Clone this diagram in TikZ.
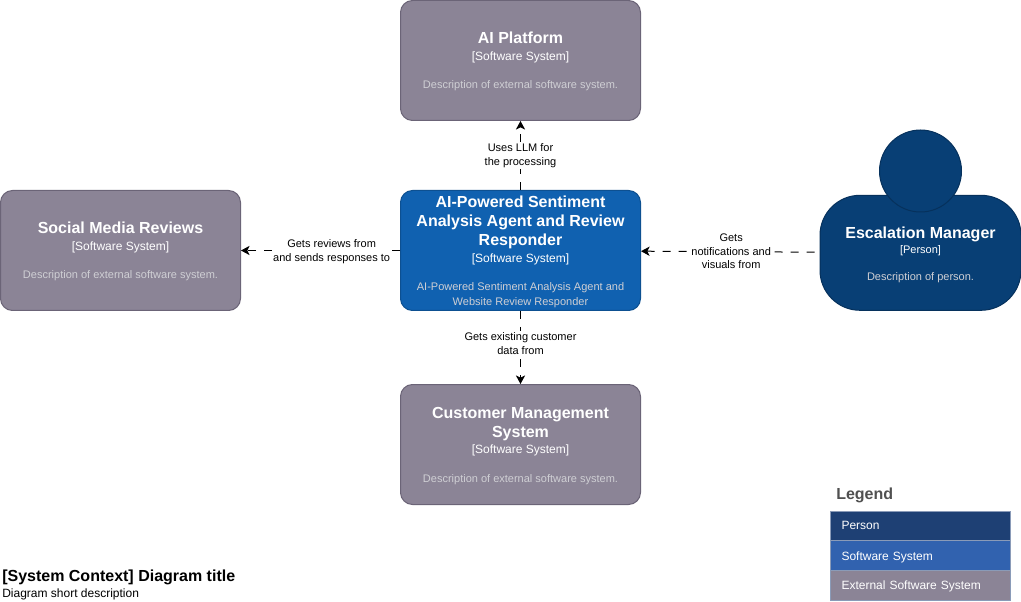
\documentclass[tikz,border=0pt]{standalone}
\usepackage{fontspec}
\setmainfont{Liberation Sans}
\usetikzlibrary{arrows.meta}
\definecolor{extfill}{HTML}{8B8496}
\definecolor{extline}{HTML}{6B6477}
\definecolor{sysfill}{HTML}{1061B0}
\definecolor{sysline}{HTML}{0D5091}
\definecolor{perfill}{HTML}{083F75}
\definecolor{perline}{HTML}{06315C}
\definecolor{legper}{HTML}{1E4074}
\definecolor{legsys}{HTML}{3162AF}
\definecolor{legline}{HTML}{8A9BB8}
\definecolor{legtitle}{HTML}{505050}
\definecolor{desc}{HTML}{CFCFD4}
\newcommand{\tf}{\fontsize{12}{14.25}\selectfont\bfseries}
\newcommand{\tfl}{\tf\rule{0pt}{10.2pt}}
\newcommand{\yf}{\fontsize{9}{14.25}\selectfont\mdseries}
\newcommand{\df}{\fontsize{8.25}{14.25}\selectfont\mdseries\color{desc}}
\newcommand{\lf}{\fontsize{8.25}{10.5}\selectfont}
\tikzset{
  x=0.75pt,y=-0.75pt,
  boxnode/.style={draw,rounded corners=9pt,minimum width=180pt,minimum height=90pt,inner sep=0pt,align=center,text=white,line width=0.75pt,font=\fontsize{9}{14.25}\selectfont},
  extbox/.style={boxnode,fill=extfill,draw=extline},
  sysbox/.style={boxnode,fill=sysfill,draw=sysline},
  perbody/.style={boxnode,fill=perfill,draw=perline,minimum width=150.75pt,minimum height=86.25pt,rounded corners=30pt},
  perhead/.style={circle,fill=perfill,draw=perline,minimum size=61.5pt,inner sep=0pt,line width=0.75pt},
  rel/.style={dash pattern=on 6pt off 6pt,line width=0.75pt,-{Stealth[length=6.5pt,width=7pt,inset=1.8pt]}},
  rellabel/.style={fill=white,inner sep=1pt,align=center,font=\lf},
  legrow/.style={draw=legline,minimum width=135pt,minimum height=22.3pt,inner sep=0pt,line width=0.75pt,text=white,align=left,anchor=north west,font=\fontsize{9}{11}\selectfont,text width=126pt},
}
\begin{document}
\begin{tikzpicture}
\useasboundingbox (0,0) rectangle (1021,602);
\node[extbox] (ai) at (520.5,60.5) {\tfl AI Platform\\[-1.5pt] \yf [Software System]\\[6.75pt] \df Description of external software system.};
\node[extbox] (social) at (120.5,250.5) {\tfl Social Media Reviews\\[-1.5pt] \yf [Software System]\\[6.75pt] \df Description of external software system.};
\node[sysbox] (main) at (520.5,250.5) {\tfl AI-Powered Sentiment\\ \tf Analysis Agent and Review\\ \tf Responder\\[-1.5pt] \yf [Software System]\\[6.75pt] \df AI-Powered Sentiment Analysis Agent and\\[-3pt] \df Website Review Responder};
\node[extbox] (crm) at (520.5,444.5) {\tfl Customer Management\\ \tf System\\[-2.25pt] \yf [Software System]\\[7.5pt] \df Description of external software system.};
\node[perbody] (body) at (920.5,252.8) {\tf\rule{0pt}{11.7pt}Escalation Manager\\[-3pt] \yf\fontsize{8.25}{14.25}\selectfont [Person]\\[5.5pt] \df Description of person.};
\node[perhead] (head) at (920.5,171) {};

\draw[rel] (main) -- (ai) node[rellabel,pos=0.49,yshift=0.75pt] {Uses LLM for\\the processing};
\draw[rel] (main) -- (social) node[rellabel,pos=0.43,yshift=-0.75pt] {Gets reviews from\\and sends responses to};
\draw[rel] (main) -- (crm) node[rellabel,pos=0.44] {Gets existing customer\\data from};
\draw[rel,dash phase=8.25pt] (body) -- (main) node[rellabel,pos=0.495] {Gets\\notifications and\\[-0.75pt]visuals from};

\node[font=\fontsize{12}{14}\selectfont\bfseries,text=legtitle,anchor=west,inner sep=0pt] (legendtitle) at (836,495.5) {Legend};
\node[legrow,fill=legper] (l1) at (830,510.5) {\hspace*{3.75pt}Person};
\node[legrow,fill=legsys] (l2) at (830,540.3) {\hspace*{3.75pt}\rule{0pt}{8.4pt}Software System};
\node[legrow,fill=extfill] (l3) at (830,570.1) {\hspace*{3.75pt}\rule{0pt}{8.4pt}External Software System};

\node[font=\fontsize{12}{14}\selectfont\bfseries,anchor=west,inner sep=0pt] (title) at (2,577) {[System Context] Diagram title};
\node[font=\fontsize{9}{11}\selectfont,anchor=west,inner sep=0pt] (subtitle) at (2,594) {Diagram short description};
\end{tikzpicture}
\end{document}
